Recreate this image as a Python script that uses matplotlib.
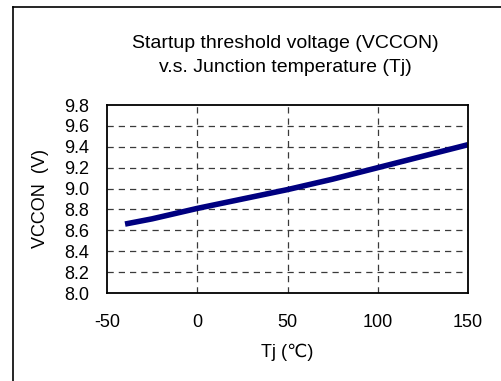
import matplotlib
matplotlib.use('Agg')
from matplotlib import pyplot as plt
from matplotlib.lines import Line2D

# Startup threshold voltage vs junction temperature
tj = [-40, -25, 0, 25, 50, 75, 100, 125, 150]
vccon = [8.66, 8.71, 8.81, 8.90, 8.99, 9.09, 9.20, 9.31, 9.42]

x_ticks = [-50, 0, 50, 100, 150]
y_ticks = [8.0, 8.2, 8.4, 8.6, 8.8, 9.0, 9.2, 9.4, 9.6, 9.8]

plt.rcParams['font.family'] = ['Liberation Sans', 'DejaVu Sans']
plt.rcParams['font.size'] = 13
plt.rcParams['axes.unicode_minus'] = False

fig = plt.figure(figsize=(5.02, 3.81), dpi=100)
ax = fig.add_axes([107 / 502, 1 - 293 / 381, 361 / 502, 188 / 381])

ax.plot(tj, vccon, color='#000080', linewidth=4, solid_capstyle='butt')

ax.set_xlim(-50, 150)
ax.set_ylim(8.0, 9.8)
ax.set_xticks(x_ticks)
ax.set_yticks(y_ticks)
ax.set_yticklabels(['%.1f' % v for v in y_ticks])
ax.tick_params(length=0)
ax.tick_params(axis='x', pad=15)
ax.tick_params(axis='y', pad=13)

# dashed grid: every y tick, inner x ticks only
for v in y_ticks[1:-1]:
    ax.axhline(v, color='#3a3a3a', linewidth=0.9, dashes=(5, 4), zorder=0)
for v in x_ticks[1:-1]:
    ax.axvline(v, color='#3a3a3a', linewidth=0.9, dashes=(5, 4), zorder=0)

for s in ax.spines.values():
    s.set_linewidth(1.3)

ax.set_xlabel('Tj (\u2103)', labelpad=9)
ax.set_ylabel('VCCON  (V)', labelpad=11)
fig.text(0.568, 1 - 44 / 381, 'Startup threshold voltage (VCCON)',
         ha='center', va='center', fontsize=14)
fig.text(0.568, 1 - 68 / 381, 'v.s. Junction temperature (Tj)',
         ha='center', va='center', fontsize=14)

# outer frame, left and top edges
fig.add_artist(Line2D([13 / 502, 13 / 502], [0, 1 - 7 / 381],
                      transform=fig.transFigure, color='black', linewidth=1.2))
fig.add_artist(Line2D([13 / 502, 1], [1 - 7 / 381, 1 - 7 / 381],
                      transform=fig.transFigure, color='black', linewidth=1.2))

fig.savefig('out.png', dpi=100)
